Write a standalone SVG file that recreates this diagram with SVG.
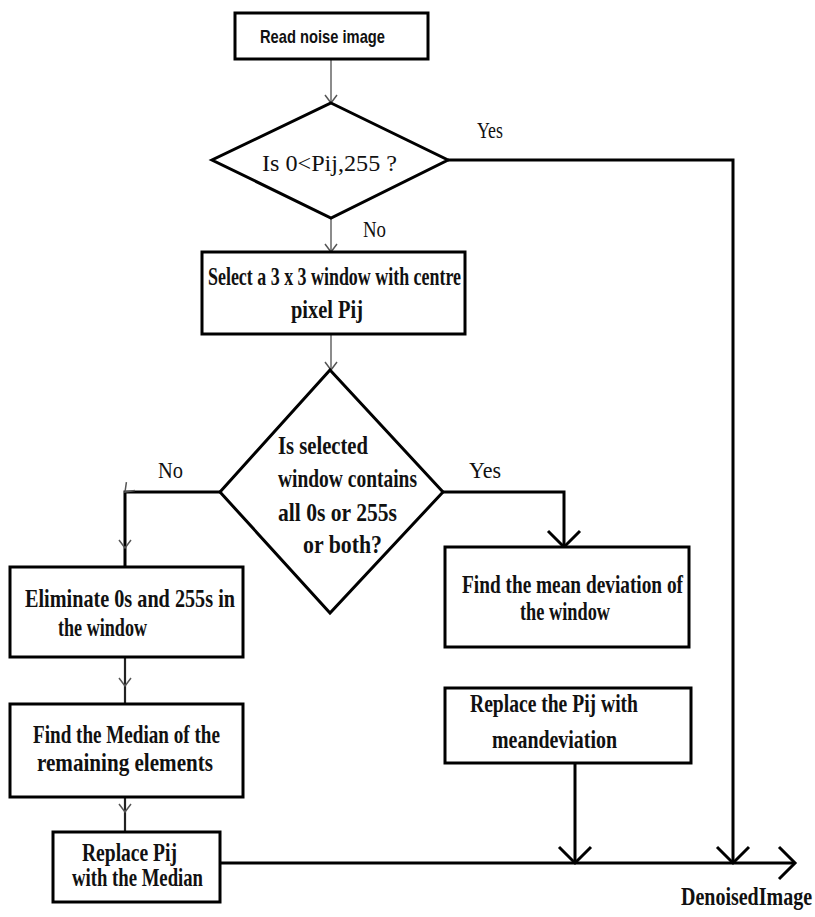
<svg xmlns="http://www.w3.org/2000/svg" width="815" height="917" viewBox="0 0 815 917">
<defs>
<style>
.box{fill:#fff;stroke:#000;stroke-width:3}
.t{font-family:"Liberation Serif","Times New Roman",serif;font-weight:bold;font-size:25px;fill:#111}
.r{font-family:"Liberation Serif","Times New Roman",serif;font-size:24px;fill:#111}
.s{font-family:"Liberation Sans",Arial,sans-serif;font-weight:bold;font-size:19px;fill:#111}
.thick{fill:none;stroke:#000;stroke-width:3}
.thin{fill:none;stroke:#666;stroke-width:1.5}
.mid{fill:none;stroke:#222;stroke-width:2.2}
</style>
<marker id="big" markerUnits="userSpaceOnUse" viewBox="0 0 16 32" refX="16" refY="16" markerWidth="16" markerHeight="32" orient="auto" overflow="visible">
<path d="M0,0 L16,16 L0,32" fill="none" stroke="#000" stroke-width="3"/>
</marker>
<marker id="small" markerUnits="userSpaceOnUse" viewBox="0 0 8 12" refX="8" refY="6" markerWidth="8" markerHeight="12" orient="auto" overflow="visible">
<path d="M0,0 L8,6 L0,12" fill="none" stroke="#555" stroke-width="1.5"/>
</marker>
</defs>
<rect width="815" height="917" fill="#fff"/>

<g id="connectors">
<path class="thin" d="M331,59 L331,103" marker-end="url(#small)"/>
<path class="thin" d="M331,218 L331,252" marker-end="url(#small)"/>
<path class="thin" d="M331,334 L331,370" marker-end="url(#small)"/>
<path class="thick" d="M448,160 L733,160 L733,863" marker-end="url(#big)"/>
<path class="thick" d="M220,492 L125,492 L125,548 L125,567" marker-mid="url(#small)"/>
<path class="thick" d="M443,492 L564,492 L564,547" marker-end="url(#big)"/>
<path class="mid" d="M125,657 L125,686 L125,704" marker-mid="url(#small)"/>
<path class="mid" d="M125,797 L125,812 L125,832" marker-mid="url(#small)"/>
<path class="thick" d="M575,763 L575,863" marker-end="url(#big)"/>
<path class="thick" d="M220,863 L795,863" marker-end="url(#big)"/>
<text class="r" x="477" y="138" textLength="26" lengthAdjust="spacingAndGlyphs">Yes</text>
<text class="r" x="363" y="237" textLength="23" lengthAdjust="spacingAndGlyphs">No</text>
<text class="r" x="158" y="478" textLength="25" lengthAdjust="spacingAndGlyphs">No</text>
<text class="r" x="469" y="478" textLength="32" lengthAdjust="spacingAndGlyphs">Yes</text>
<text class="t" transform="translate(681,905) scale(0.8,1)" x="0" y="0" font-size="22">DenoisedImage</text>
</g>

<g id="read">
<rect class="box" x="235" y="13" width="193" height="46"/>
<text class="s" x="260" y="43" textLength="125" lengthAdjust="spacingAndGlyphs">Read noise image</text>
</g>

<g id="decision1">
<polygon class="box" points="331,103 448,160 331,218 212,160"/>
<text class="r" x="262" y="171" textLength="135" lengthAdjust="spacingAndGlyphs">Is 0&lt;Pij,255 ?</text>
</g>

<g id="select">
<rect class="box" x="202" y="252" width="263" height="82"/>
<text class="t" x="208" y="285" textLength="253" lengthAdjust="spacingAndGlyphs">Select a 3 x 3 window with centre</text>
<text class="t" x="291" y="318" textLength="72" lengthAdjust="spacingAndGlyphs">pixel Pij</text>
</g>

<g id="decision2">
<polygon class="box" points="330,370 443,492 330,613 220,492"/>
<text class="t" x="278" y="454" textLength="90" lengthAdjust="spacingAndGlyphs">Is selected</text>
<text class="t" x="278" y="487" textLength="139" lengthAdjust="spacingAndGlyphs">window contains</text>
<text class="t" x="278" y="521" textLength="119" lengthAdjust="spacingAndGlyphs">all 0s or 255s</text>
<text class="t" x="303" y="553" textLength="79" lengthAdjust="spacingAndGlyphs">or both?</text>
</g>

<g id="eliminate">
<rect class="box" x="10" y="567" width="233" height="90"/>
<text class="t" x="25" y="607" textLength="210" lengthAdjust="spacingAndGlyphs">Eliminate 0s and 255s in</text>
<text class="t" x="58" y="636" textLength="89" lengthAdjust="spacingAndGlyphs">the window</text>
</g>

<g id="median">
<rect class="box" x="10" y="704" width="233" height="93"/>
<text class="t" x="33" y="743" textLength="187" lengthAdjust="spacingAndGlyphs">Find the Median of the</text>
<text class="t" x="37" y="771" textLength="176" lengthAdjust="spacingAndGlyphs">remaining elements</text>
</g>

<g id="replace">
<rect class="box" x="53" y="832" width="167" height="70"/>
<text class="t" x="82" y="861" textLength="95" lengthAdjust="spacingAndGlyphs">Replace Pij</text>
<text class="t" x="72" y="886" textLength="131" lengthAdjust="spacingAndGlyphs">with the Median</text>
</g>

<g id="meandev">
<rect class="box" x="445" y="547" width="244" height="100"/>
<text class="t" x="462" y="593" textLength="221" lengthAdjust="spacingAndGlyphs">Find the mean deviation of</text>
<text class="t" x="520" y="620" textLength="90" lengthAdjust="spacingAndGlyphs">the window</text>
</g>

<g id="replacemean">
<rect class="box" x="445" y="688" width="246" height="75"/>
<text class="t" x="470" y="712" textLength="168" lengthAdjust="spacingAndGlyphs">Replace the Pij with</text>
<text class="t" x="492" y="748" textLength="125" lengthAdjust="spacingAndGlyphs">meandeviation</text>
</g>
</svg>
